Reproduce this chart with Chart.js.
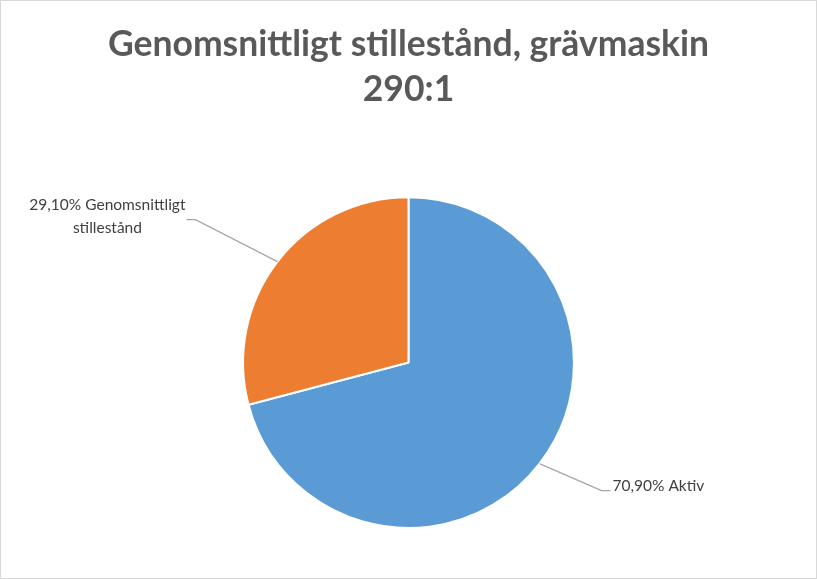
<!DOCTYPE html>
<html>
<head>
<meta charset="utf-8">
<script src="https://cdn.jsdelivr.net/npm/chart.js@4/dist/chart.umd.min.js"></script>
<style>
  html, body { margin: 0; padding: 0; background: #fff; }
  #wrap { width: 817px; height: 579px; position: relative; }
</style>
</head>
<body>
<div id="wrap"><canvas id="chart"></canvas></div>
<script>
'use strict';

// data
var kategorier = ['Aktiv', 'Genomsnittligt stillestånd'];
var andelar = [70.90, 29.10];
var etiketter = [['70,90% Aktiv'], ['29,10% Genomsnittligt', 'stillestånd']];
var farger = ['#5B9BD5', '#ED7D31'];
var rubrik = ['Genomsnittligt stillestånd, grävmaskin', '290:1'];

var TEXTFARG = '#404040';
var LINJEFARG = '#A6A6A6';

/* bakgrund + ram runt bilden */
var bakgrundPlugin = {
  id: 'bakgrund',
  beforeDraw: function (chart) {
    var ctx = chart.ctx;
    ctx.save();
    ctx.fillStyle = '#fff';
    ctx.fillRect(0, 0, chart.width, chart.height);
    ctx.strokeStyle = '#D9D9D9';
    ctx.lineWidth = 1;
    ctx.strokeRect(0.5, 0.5, chart.width - 1, chart.height - 1);
    ctx.restore();
  }
};

/* dataetiketter med hänvisningslinjer */
// knick-punkt relativt kanten på tårtbiten, och åt vilket håll texten ligger
var etikettLayout = [
  { dx: 62, dy: 27, sida: 1 },
  { dx: -82, dy: -42, sida: -1 }
];

var etikettPlugin = {
  id: 'etiketter',
  afterDatasetsDraw: function (chart) {
    var ctx = chart.ctx;
    var meta = chart.getDatasetMeta(0);
    ctx.save();
    ctx.font = '15.5px Lato, "Open Sans", sans-serif';
    meta.data.forEach(function (arc, i) {
      var p = arc.getProps(['x', 'y', 'startAngle', 'endAngle', 'outerRadius'], true);
      var mitt = (p.startAngle + p.endAngle) / 2;
      var kx = p.x + Math.cos(mitt) * p.outerRadius;
      var ky = p.y + Math.sin(mitt) * p.outerRadius;
      var lay = etikettLayout[i];
      var ex = kx + lay.dx;
      var ey = ky + lay.dy;
      var slutX = ex + lay.sida * 9;

      ctx.strokeStyle = LINJEFARG;
      ctx.lineWidth = 1.3;
      ctx.beginPath();
      ctx.moveTo(kx, ky);
      ctx.lineTo(ex, ey);
      ctx.lineTo(slutX, ey);
      ctx.stroke();

      var rader = etiketter[i];
      var bredd = 0;
      rader.forEach(function (r) { bredd = Math.max(bredd, ctx.measureText(r).width); });
      var radHojd = 23;
      var mittX = lay.sida > 0 ? slutX + 2 + bredd / 2 : slutX - 1 - bredd / 2;
      var y0 = ey - (rader.length - 1) * radHojd / 2 - (rader.length === 1 ? 5 : 3);
      ctx.fillStyle = TEXTFARG;
      ctx.textAlign = 'center';
      ctx.textBaseline = 'middle';
      rader.forEach(function (r, j) {
        ctx.fillText(r, mittX, y0 + j * radHojd);
      });
    });
    ctx.restore();
  }
};

new Chart(document.getElementById('chart'), {
  type: 'pie',
  data: {
    labels: kategorier,
    datasets: [{
      data: andelar,
      backgroundColor: farger,
      borderColor: '#FFFFFF',
      borderWidth: 2
    }]
  },
  options: {
    responsive: true,
    maintainAspectRatio: false,
    animation: false,
    layout: { padding: { top: 0, bottom: 50, left: 0, right: 0 } },
    plugins: {
      legend: { display: false },
      tooltip: { enabled: false },
      title: {
        display: true,
        text: rubrik,
        color: '#595959',
        font: { family: 'Lato, "Open Sans", sans-serif', size: 35.5, weight: 'bold', lineHeight: 1.27 },
        padding: { top: 22, bottom: 84 }
      }
    }
  },
  plugins: [bakgrundPlugin, etikettPlugin]
});
</script>
</body>
</html>
